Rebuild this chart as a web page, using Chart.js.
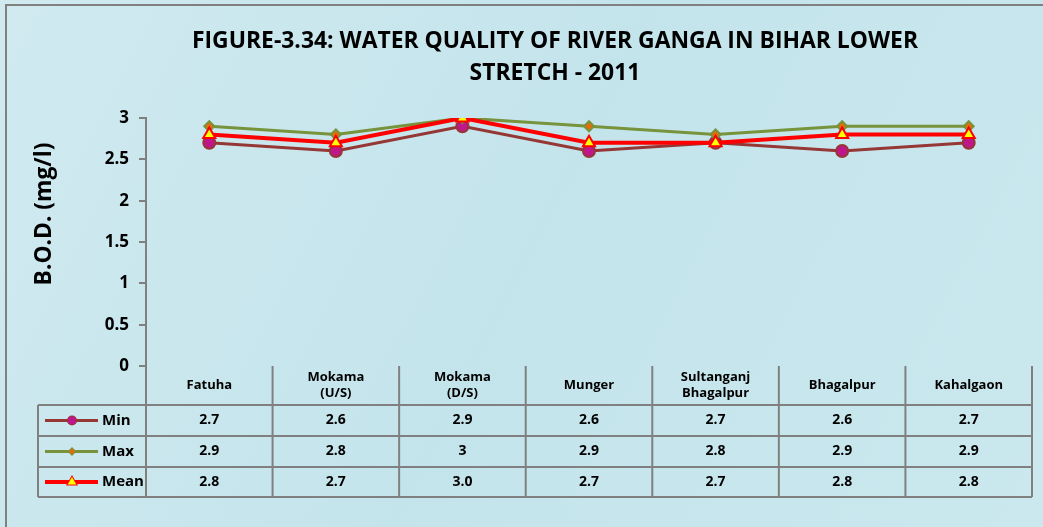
<!DOCTYPE html>
<html>
<head>
<meta charset="utf-8">
<script src="https://cdn.jsdelivr.net/npm/chart.js@4.4.1/dist/chart.umd.min.js"></script>
<style>
  html, body { margin: 0; padding: 0; background: #cde9ef; }
  #wrap { width: 1043px; height: 527px; position: relative; }
</style>
</head>
<body>
<div id="wrap"><canvas id="grafico"></canvas></div>
<script>
// B.O.D. por estación, tramo bajo del Ganges en Bihar (2011)
const estaciones = [["Fatuha"], ["Mokama", "(U/S)"], ["Mokama", "(D/S)"], ["Munger"],
  ["Sultanganj", "Bhagalpur"], ["Bhagalpur"], ["Kahalgaon"]];
const valoresMin  = [2.7, 2.6, 2.9, 2.6, 2.7, 2.6, 2.7];
const valoresMax  = [2.9, 2.8, 3, 2.9, 2.8, 2.9, 2.9];
const valoresMean = [2.8, 2.7, 3.0, 2.7, 2.7, 2.8, 2.8];
const textoMin  = ["2.7", "2.6", "2.9", "2.6", "2.7", "2.6", "2.7"];
const textoMax  = ["2.9", "2.8", "3", "2.9", "2.8", "2.9", "2.9"];
const textoMean = ["2.8", "2.7", "3.0", "2.7", "2.7", "2.8", "2.8"];
const ticksY = [0, 0.5, 1, 1.5, 2, 2.5, 3];

const FUENTE = "'Open Sans', sans-serif";
const GRIS = "#808080";

const series = [
  { label: "Min",  data: valoresMin,  textos: textoMin,  color: "#953735", ancho: 3,
    punto: "circle", relleno: "#c0168c", radio: 6 },
  { label: "Max",  data: valoresMax,  textos: textoMax,  color: "#77933c", ancho: 3,
    punto: "rectRot", relleno: "#e46c0a", radio: 5 },
  { label: "Mean", data: valoresMean, textos: textoMean, color: "#ff0000", ancho: 4,
    punto: "triangle", relleno: "#ffff00", radio: 7 },
];

// Ajusta el tamaño de letra para que el texto ocupe el ancho dado
function fuenteAjustada(ctx, texto, ancho, base) {
  ctx.font = `bold ${base}px ${FUENTE}`;
  const t = base * ancho / ctx.measureText(texto).width;
  return `bold ${t.toFixed(1)}px ${FUENTE}`;
}

// Fondo, marco, títulos y tabla de datos bajo el eje X
const decorado = {
  id: "decorado",
  beforeDraw(chart) {
    const { ctx, width, height } = chart;
    ctx.save();
    const g = ctx.createLinearGradient(0, 0, width, height);
    g.addColorStop(0, "#d0eaf0");
    g.addColorStop(0.5, "#c4e4eb");
    g.addColorStop(1, "#cae8ee");
    ctx.fillStyle = g;
    ctx.fillRect(0, 0, width, height);
    ctx.strokeStyle = GRIS;
    ctx.lineWidth = 2;
    ctx.strokeRect(6, 5, width + 10, height + 10);
    ctx.restore();
  },
  afterDraw(chart) {
    const { ctx, chartArea } = chart;
    const x = chart.scales.x;
    const n = estaciones.length;
    const izq = chartArea.left, der = chartArea.right, y0 = chartArea.bottom;
    const paso = (der - izq) / n;
    const filas = [y0, y0 + 39, y0 + 70, y0 + 101, y0 + 131];
    const leyIzq = 38;

    ctx.save();
    // títulos
    const linea1 = "FIGURE-3.34: WATER QUALITY OF RIVER GANGA IN BIHAR LOWER";
    ctx.fillStyle = "#000";
    ctx.textAlign = "center";
    ctx.textBaseline = "middle";
    ctx.font = fuenteAjustada(ctx, linea1, 725, 20);
    ctx.fillText(linea1, 555, 41);
    ctx.fillText("STRETCH - 2011", 555, 73);
    ctx.save();
    ctx.translate(45, 214);
    ctx.rotate(-Math.PI / 2);
    ctx.font = fuenteAjustada(ctx, "B.O.D. (mg/l)", 143, 20);
    ctx.fillText("B.O.D. (mg/l)", 0, 0);
    ctx.restore();

    // rejilla de la tabla
    ctx.strokeStyle = GRIS;
    ctx.lineWidth = 2;
    ctx.beginPath();
    for (let i = 1; i < filas.length; i++) {
      ctx.moveTo(leyIzq, filas[i]); ctx.lineTo(der, filas[i]);
    }
    for (let i = 0; i <= n; i++) {
      const xv = izq + i * paso;
      ctx.moveTo(xv, y0); ctx.lineTo(xv, filas[4]);
    }
    ctx.moveTo(leyIzq, filas[1]); ctx.lineTo(leyIzq, filas[4]);
    ctx.stroke();

    // cabeceras
    ctx.font = "bold 13px " + FUENTE;
    estaciones.forEach((lineas, i) => {
      const cx = x.getPixelForValue(i);
      const cy = (filas[0] + filas[1]) / 2;
      lineas.forEach((t, k) => ctx.fillText(t, cx, cy + (k - (lineas.length - 1) / 2) * 16));
    });

    // filas de valores con su muestra de leyenda
    series.forEach((s, r) => {
      const cy = (filas[r + 1] + filas[r + 2]) / 2;
      ctx.font = "bold 14px " + FUENTE;
      ctx.fillStyle = "#000";
      s.textos.forEach((t, i) => ctx.fillText(t, x.getPixelForValue(i), cy));
      ctx.textAlign = "left";
      ctx.font = "bold 15px " + FUENTE;
      ctx.fillText(s.label, 102, cy);
      ctx.textAlign = "center";
      ctx.strokeStyle = s.color;
      ctx.lineWidth = s.ancho;
      ctx.beginPath();
      ctx.moveTo(45, cy); ctx.lineTo(98, cy);
      ctx.stroke();
      ctx.fillStyle = s.relleno;
      ctx.strokeStyle = s.color;
      ctx.lineWidth = 2;
      Chart.helpers.drawPoint(ctx, { pointStyle: s.punto, radius: s.radio - 2, rotation: 0, borderWidth: 2 }, 72, cy);
      ctx.fill();
    });
    ctx.restore();
  },
};

new Chart(document.getElementById("grafico"), {
  type: "line",
  data: {
    labels: estaciones,
    datasets: series.map((s, i) => ({
      label: s.label,
      data: s.data,
      borderColor: s.color,
      borderWidth: s.ancho,
      pointStyle: s.punto,
      pointRadius: s.radio,
      pointHoverRadius: s.radio,
      pointBackgroundColor: s.relleno,
      pointBorderColor: s.color,
      pointBorderWidth: 2,
      tension: 0,
      order: series.length - i,
    })),
  },
  plugins: [decorado],
  options: {
    responsive: true,
    maintainAspectRatio: false,
    animation: false,
    layout: { padding: { left: 0, top: 118, right: 11, bottom: 161 } },
    plugins: { legend: { display: false }, tooltip: { enabled: false }, title: { display: false } },
    scales: {
      x: { type: "category", offset: true, display: false },
      y: {
        min: 0, max: 3,
        afterBuildTicks(scale) { scale.ticks = ticksY.map((v) => ({ value: v })); },
        afterFit(scale) { scale.width = 146; },
        border: { color: GRIS, width: 2 },
        grid: { drawOnChartArea: false, color: GRIS, lineWidth: 2, tickLength: 7 },
        ticks: {
          color: "#000", font: { family: FUENTE, size: 17, weight: "bold" }, padding: 10,
          callback: (v) => String(v),
        },
      },
    },
  },
});
</script>
</body>
</html>
